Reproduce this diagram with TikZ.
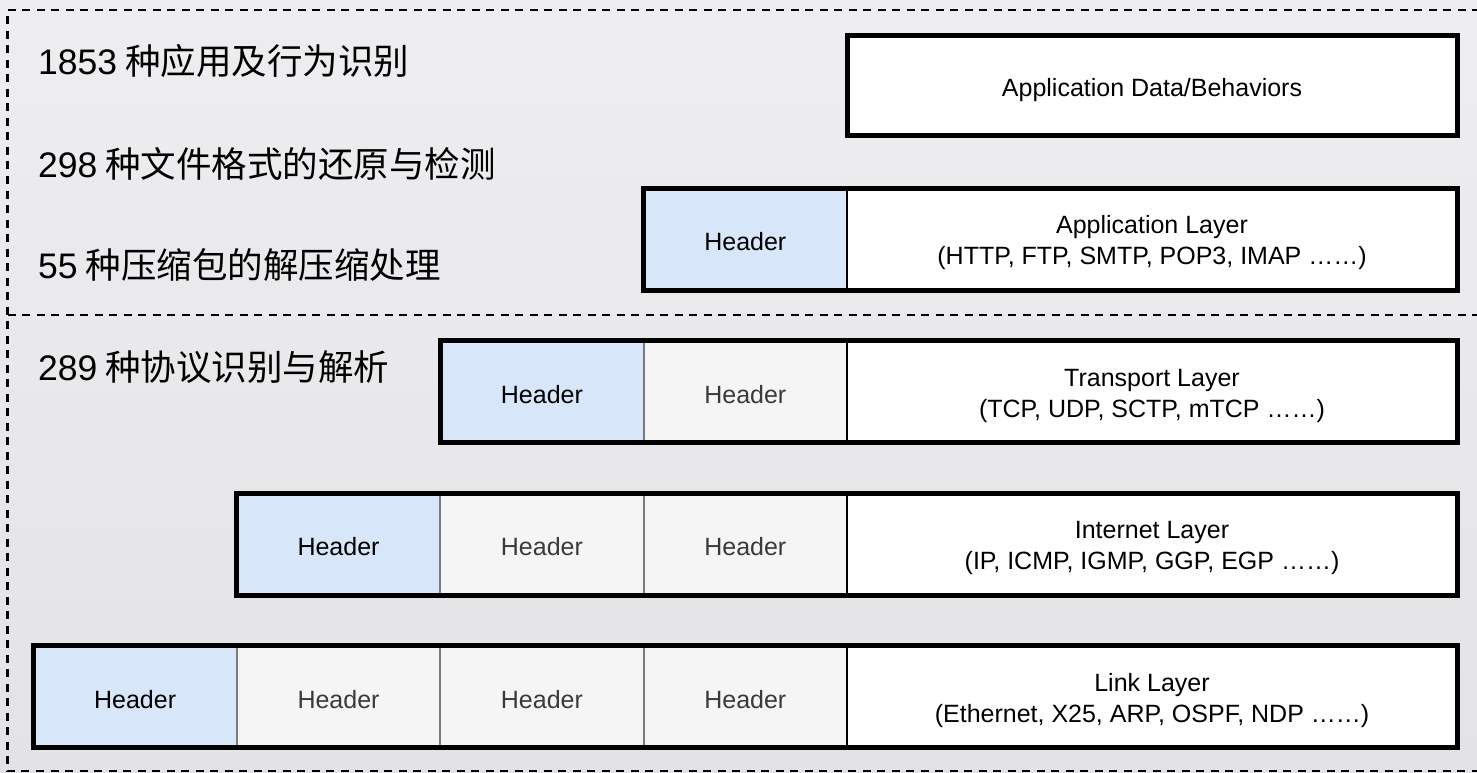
\documentclass[tikz,border=0pt]{standalone}
\usepackage{fontspec}
\setmainfont{Liberation Sans}
\newfontfamily\cjkfont{Noto Sans CJK SC}
\definecolor{bgtop}{HTML}{EEEDEF}
\definecolor{bgbot}{HTML}{E3E3E5}
\definecolor{hblue}{HTML}{D7E6F8}
\definecolor{hgrey}{HTML}{F5F5F5}
\definecolor{hgreyline}{HTML}{7A7A7A}
\definecolor{htext}{HTML}{3A3A3A}
\definecolor{framecol}{HTML}{000000}
\newcommand{\latnum}[1]{{\fontspec{Liberation Sans}#1}}
\begin{document}
\begin{tikzpicture}[x=1pt,y=-1pt,
  frameline/.style={draw=framecol,line width=2.8pt,dash pattern=on 8pt off 6.5pt},
  cell/.style={rectangle,anchor=north west,inner sep=0pt,outer sep=0pt,
    minimum width=203.4pt,minimum height=102pt,line width=2pt},
  hdrblue/.style={cell,fill=hblue,draw=black},
  hdrgrey/.style={cell,fill=hgrey,draw=hgreyline},
  laycell/.style={cell,fill=white,draw=black,minimum width=610pt},
  celltext/.style={inner sep=0pt,align=center,font=\fontsize{25}{31}\selectfont},
  hdrtext/.style={celltext,text=black},
  hdrgreytext/.style={celltext,text=htext},
  laytext/.style={celltext,text=black},
  rowframe/.style={draw=black,line width=5pt},
  cjklabel/.style={anchor=base west,inner sep=0pt,text=black,
    font=\cjkfont\fontsize{35.5}{40}\selectfont}
]
\useasboundingbox (0,0) rectangle (1477,773);
\fill[top color=bgtop,bottom color=bgbot] (0,0) rectangle (1477,773);

% dashed frame
\draw[frameline] (1480,10) -- (7.5,10) -- (7.5,771) -- (1480,771);
\draw[frameline] (7.5,315) -- (1480,315);

% left labels
\node[cjklabel] (t1) at (38,75) {\latnum{1853} 种应用及行为识别};
\node[cjklabel] (t2) at (38,177) {\latnum{298} 种文件格式的还原与检测};
\node[cjklabel] (t3) at (38,278) {\latnum{55} 种压缩包的解压缩处理};
\node[cjklabel] (t4) at (38,380) {\latnum{289} 种协议识别与解析};

% application data
\node[laycell,minimum height=100pt] (d1) at (847,35.5) {};
\node[laytext] (d1t) at ([yshift=-5pt]d1.center) {Application Data/Behaviors};
\draw[rowframe] (d1.north west) rectangle (d1.south east);

% application layer
\node[hdrblue] (a1) at (643.6,188) {};
\node[laycell] (a2) at (a1.north east) {};
\node[hdrtext] (a1t) at ([yshift=-3pt]a1.center) {Header};
\node[laytext] (a2t) at ([yshift=-4pt]a2.center) {Application Layer\\(HTTP, FTP, SMTP, POP3, IMAP ……)};
\draw[rowframe] (a1.north west) rectangle (a2.south east);

% transport layer
\node[hdrblue] (b1) at (440.2,340.5) {};
\node[hdrgrey] (b2) at (b1.north east) {};
\node[laycell] (b3) at (b2.north east) {};
\node[hdrtext] (b1t) at ([yshift=-3pt]b1.center) {Header};
\node[hdrgreytext] (b2t) at ([yshift=-3pt]b2.center) {Header};
\node[laytext] (b3t) at ([yshift=-4pt]b3.center) {Transport Layer\\(TCP, UDP, SCTP, mTCP ……)};
\draw[rowframe] (b1.north west) rectangle (b3.south east);

% internet layer
\node[hdrblue] (c1) at (236.8,493) {};
\node[hdrgrey] (c2) at (c1.north east) {};
\node[hdrgrey] (c3) at (c2.north east) {};
\node[laycell] (c4) at (c3.north east) {};
\node[hdrtext] (c1t) at ([yshift=-3pt]c1.center) {Header};
\node[hdrgreytext] (c2t) at ([yshift=-3pt]c2.center) {Header};
\node[hdrgreytext] (c3t) at ([yshift=-3pt]c3.center) {Header};
\node[laytext] (c4t) at ([yshift=-4pt]c4.center) {Internet Layer\\(IP, ICMP, IGMP, GGP, EGP ……)};
\draw[rowframe] (c1.north west) rectangle (c4.south east);

% link layer
\node[hdrblue] (l1) at (33.4,645.5) {};
\node[hdrgrey] (l2) at (l1.north east) {};
\node[hdrgrey] (l3) at (l2.north east) {};
\node[hdrgrey] (l4) at (l3.north east) {};
\node[laycell] (l5) at (l4.north east) {};
\node[hdrtext] (l1t) at ([yshift=-3pt]l1.center) {Header};
\node[hdrgreytext] (l2t) at ([yshift=-3pt]l2.center) {Header};
\node[hdrgreytext] (l3t) at ([yshift=-3pt]l3.center) {Header};
\node[hdrgreytext] (l4t) at ([yshift=-3pt]l4.center) {Header};
\node[laytext] (l5t) at ([yshift=-4pt]l5.center) {Link Layer\\(Ethernet, X25, ARP, OSPF, NDP ……)};
\draw[rowframe] (l1.north west) rectangle (l5.south east);
\end{tikzpicture}
\end{document}
